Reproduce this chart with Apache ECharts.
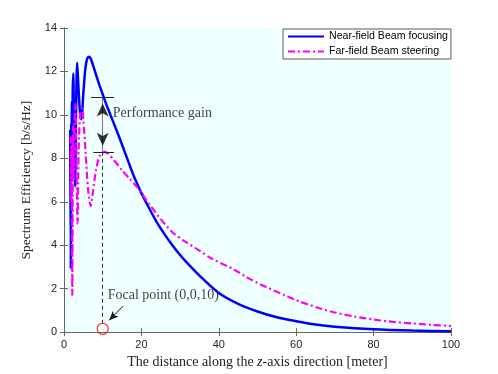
<!DOCTYPE html>
<html>
<head>
<meta charset="utf-8">
<script src="https://cdn.jsdelivr.net/npm/echarts@6/dist/echarts.min.js"></script>
<style>
  html, body { margin: 0; padding: 0; background: #fff; }
  #chart { width: 498px; height: 374px; }
</style>
</head>
<body>
<div id="chart"></div>
<script>
// near-field beam focusing [distance, SE]
var nearField = [
  [1.6, 9.3], [1.75, 2.9], [1.85, 9.6], [1.95, 7.2], [2.05, 10.6], [2.15, 7.8], [2.25, 11.0],
  [2.4, 11.9], [2.6, 9.0], [2.85, 6.7], [3.1, 10.0], [3.4, 12.4], [3.7, 11.4], [4.1, 10.2],
  [4.5, 9.8], [5.0, 11.0], [5.5, 12.1], [6.0, 12.6], [6.5, 12.68], [7.0, 12.55], [8, 12.0],
  [9, 11.45], [10, 10.95], [11, 10.45], [12, 10.0], [14, 9.1], [16, 8.15], [18, 7.2],
  [19, 6.8], [20, 6.4], [22, 5.7], [24, 5.05], [26, 4.5], [28, 4.0], [30, 3.55],
  [32, 3.15], [35, 2.6], [40, 1.8], [45, 1.3], [50, 0.95], [55, 0.68], [60, 0.5],
  [65, 0.35], [70, 0.25], [80, 0.13], [90, 0.07], [100, 0.04]
];
// far-field beam steering [distance, SE]
var farField = [
  [1.7, 9.0], [1.85, 6.0], [2.0, 8.6], [2.15, 1.7], [2.35, 9.5], [2.55, 7.0], [2.75, 9.8],
  [2.95, 10.5], [3.1, 9.6], [3.3, 6.8], [3.5, 5.0], [3.8, 8.5], [4.2, 10.1], [4.6, 10.3],
  [5.0, 9.8], [5.6, 8.2], [6.2, 6.6], [6.9, 5.8], [7.5, 6.5], [8.3, 7.5], [9.2, 8.1],
  [10.4, 8.3], [11.5, 8.2], [13, 7.9], [15, 7.45], [17, 7.05], [19, 6.65], [22, 5.9],
  [25, 5.2], [28, 4.6], [31, 4.2], [34.6, 3.8], [38, 3.4], [43.7, 2.9], [48, 2.45],
  [52.4, 2.06], [57, 1.7], [61, 1.4], [66, 1.1], [70, 0.9], [75, 0.72], [80, 0.58],
  [85, 0.47], [90, 0.4], [95, 0.33], [100, 0.28]
];
var seriesNames = ['Near-field Beam focusing', 'Far-field Beam steering'];
var xTicks = [0, 20, 40, 60, 80, 100];
var yTicks = [0, 2, 4, 6, 8, 10, 12, 14];

// annotation values
var focalX = 10;
var gainTop = 10.8;
var gainBottom = 8.3;
var gainText = [12.6, 10.05];
var focalText = [11.3, 1.7];
var focalArrow = [[15.3, 1.2], [11.7, 0.55]];

var axisColor = '#666';
var serif = '"Liberation Serif", "Times New Roman", serif';
var sans = '"Liberation Sans", Arial, sans-serif';

var myChart = echarts.init(document.getElementById('chart'));

var boxAxis = {
  axisLine: {show: true, lineStyle: {color: axisColor, width: 1}},
  axisTick: {show: true, inside: true, length: 4, lineStyle: {color: axisColor}},
  axisLabel: {show: false},
  splitLine: {show: false}
};

var option = {
  animation: false,
  grid: {left: 64, right: 47, top: 28, bottom: 41, show: true,
         backgroundColor: '#f0ffff', borderWidth: 0},
  legend: {
    data: seriesNames,
    orient: 'vertical',
    left: 283, top: 29,
    padding: [2, 3, 2, 4],
    itemGap: 4,
    itemWidth: 36, itemHeight: 12,
    backgroundColor: '#fff',
    borderColor: '#333', borderWidth: 0.8,
    itemStyle: {opacity: 0},
    textStyle: {fontFamily: sans, fontSize: 10.6, color: '#000'}
  },
  xAxis: [
    {
      type: 'value', min: xTicks[0], max: xTicks[xTicks.length - 1], interval: 20,
      name: '{n|The distance along the }{i|z}{n|-axis direction [meter]}',
      nameLocation: 'middle', nameGap: 21,
      nameTextStyle: {rich: {
        n: {fontFamily: serif, fontSize: 14, color: '#222'},
        i: {fontFamily: serif, fontSize: 14, fontStyle: 'italic', color: '#222'}
      }},
      axisLine: {show: true, lineStyle: {color: axisColor}},
      axisTick: {inside: true, length: 4, lineStyle: {color: axisColor}},
      axisLabel: {fontFamily: sans, fontSize: 11, color: '#262626', margin: 7},
      splitLine: {show: false}
    },
    Object.assign({type: 'value', position: 'top', min: 0, max: 100, interval: 20}, boxAxis)
  ],
  yAxis: [
    {
      type: 'value', min: yTicks[0], max: yTicks[yTicks.length - 1], interval: 2,
      name: 'Spectrum Efficiency [b/s/Hz]',
      nameLocation: 'middle', nameGap: 21,
      nameTextStyle: {fontFamily: serif, fontSize: 13.5, color: '#222'},
      axisLine: {show: true, lineStyle: {color: axisColor}},
      axisTick: {inside: true, length: 4, lineStyle: {color: axisColor}},
      axisLabel: {fontFamily: sans, fontSize: 11, color: '#262626', margin: 7},
      splitLine: {show: false}
    },
    Object.assign({type: 'value', position: 'right', min: 0, max: 14, interval: 2}, boxAxis)
  ],
  series: [
    {
      name: seriesNames[0], type: 'line', data: nearField,
      showSymbol: false, symbol: 'none', smooth: 0.3,
      lineStyle: {color: '#0000ff', width: 2.5},
      itemStyle: {color: '#0000ff'},
      z: 2
    },
    {
      name: seriesNames[1], type: 'line', data: farField,
      showSymbol: false, symbol: 'none', smooth: 0.25,
      lineStyle: {color: '#ff00ff', width: 2.2, type: [7, 3, 2, 3]},
      itemStyle: {color: '#ff00ff'},
      z: 3
    },
    {
      // annotation lines
      type: 'line', data: [], silent: true, z: 4,
      markLine: {
        silent: true, animation: false, label: {show: false},
        symbol: ['none', 'none'],
        data: [
          [{coord: [focalX, gainBottom], lineStyle: {color: '#333', type: [4, 3], width: 1}},
           {coord: [focalX, 0.4]}],
          [{coord: [focalX - 3, gainTop], lineStyle: {color: '#222', type: 'solid', width: 1}},
           {coord: [focalX + 2.9, gainTop]}],
          [{coord: [focalX - 2.4, gainBottom], lineStyle: {color: '#222', type: 'solid', width: 1}},
           {coord: [focalX + 2.9, gainBottom]}],
          [{coord: [focalX, gainTop], lineStyle: {color: '#777', type: 'solid', width: 1}},
           {coord: [focalX, gainBottom]}],
          [{coord: focalArrow[0], symbol: 'none',
            lineStyle: {color: '#111', type: 'solid', width: 1}},
           {coord: focalArrow[1], symbol: 'arrow', symbolSize: [6, 9]}]
        ]
      }
    },
    {
      // double arrow heads of the gain marker
      type: 'scatter', silent: true, clip: false, z: 5,
      symbol: 'arrow', symbolSize: [9, 13],
      itemStyle: {color: '#000'},
      data: [
        {value: [focalX, gainTop], symbolOffset: [0, 6]},
        {value: [focalX, gainBottom], symbolRotate: 180, symbolOffset: [0, -6]}
      ]
    },
    {
      // focal point marker
      type: 'scatter', data: [[focalX, 0.15]], clip: false, silent: true,
      symbol: 'circle', symbolSize: 11, z: 5,
      itemStyle: {color: 'rgba(0,0,0,0)', borderColor: '#ff0000', borderWidth: 1.2}
    },
    {
      type: 'scatter', silent: true, symbolSize: 0, z: 6,
      data: [
        {value: gainText, label: {formatter: 'Performance gain'}},
        {value: focalText, label: {formatter: 'Focal point (0,0,10)'}}
      ],
      label: {show: true, position: 'right', distance: 0,
              fontFamily: serif, fontSize: 14, color: '#111'}
    }
  ]
};

myChart.setOption(option, true);
</script>
</body>
</html>
